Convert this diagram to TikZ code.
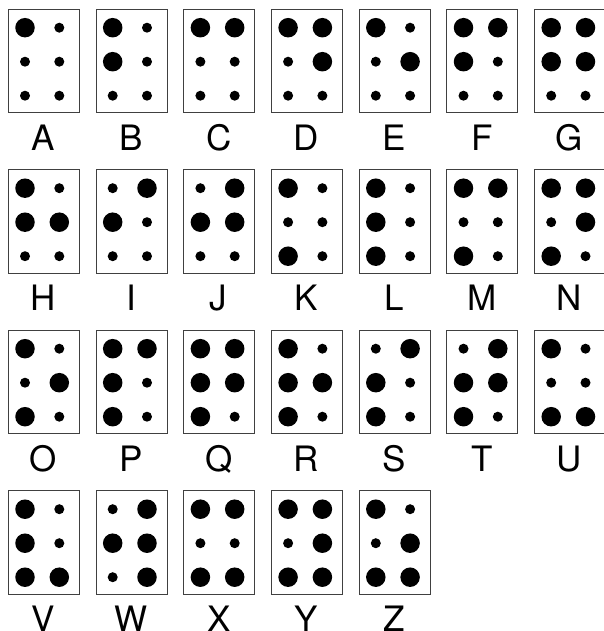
\documentclass[tikz,border=0pt]{standalone}
\usepackage{fontspec}
\setmainfont{TeX Gyre Heros}
\newcommand\brcell[9]{%
  \pgfmathsetmacro\bx{8.3+87.7*#1}%
  \pgfmathsetmacro\by{9.3+160.5*#2}%
  \node[cell] (box#3) at (\bx,\by) {};
  \node[dot#4] (#3d1) at (\bx+16.7,\by+18.4) {};
  \node[dot#5] (#3d2) at (\bx+16.7,\by+52.4) {};
  \node[dot#6] (#3d3) at (\bx+16.7,\by+86.4) {};
  \node[dot#7] (#3d4) at (\bx+51.0,\by+18.4) {};
  \node[dot#8] (#3d5) at (\bx+51.0,\by+52.4) {};
  \node[dot#9] (#3d6) at (\bx+51.0,\by+86.4) {};
  \node[lbl] (lab#3) at (\bx+35.0,\by+103.5+37.5) {#3};
}
\begin{document}
\begin{tikzpicture}[x=1pt,y=-1pt,
  cell/.style={draw=black!75, line width=0.9pt, fill=white, minimum width=71pt,
    minimum height=103.5pt, inner sep=0pt, outer sep=0pt, anchor=north west},
  dot1/.style={fill=black, circle, minimum size=19.5pt, inner sep=0pt},
  dot0/.style={fill=black, circle, minimum size=10pt, inner sep=0pt},
  lbl/.style={font=\fontsize{35}{35}\selectfont, anchor=base, inner sep=0pt}]
\useasboundingbox[fill=white] (0,0) rectangle (604,631);
\brcell{0}{0}{A}{1}{0}{0}{0}{0}{0}
\brcell{1}{0}{B}{1}{1}{0}{0}{0}{0}
\brcell{2}{0}{C}{1}{0}{0}{1}{0}{0}
\brcell{3}{0}{D}{1}{0}{0}{1}{1}{0}
\brcell{4}{0}{E}{1}{0}{0}{0}{1}{0}
\brcell{5}{0}{F}{1}{1}{0}{1}{0}{0}
\brcell{6}{0}{G}{1}{1}{0}{1}{1}{0}
\brcell{0}{1}{H}{1}{1}{0}{0}{1}{0}
\brcell{1}{1}{I}{0}{1}{0}{1}{0}{0}
\brcell{2}{1}{J}{0}{1}{0}{1}{1}{0}
\brcell{3}{1}{K}{1}{0}{1}{0}{0}{0}
\brcell{4}{1}{L}{1}{1}{1}{0}{0}{0}
\brcell{5}{1}{M}{1}{0}{1}{1}{0}{0}
\brcell{6}{1}{N}{1}{0}{1}{1}{1}{0}
\brcell{0}{2}{O}{1}{0}{1}{0}{1}{0}
\brcell{1}{2}{P}{1}{1}{1}{1}{0}{0}
\brcell{2}{2}{Q}{1}{1}{1}{1}{1}{0}
\brcell{3}{2}{R}{1}{1}{1}{0}{1}{0}
\brcell{4}{2}{S}{0}{1}{1}{1}{0}{0}
\brcell{5}{2}{T}{0}{1}{1}{1}{1}{0}
\brcell{6}{2}{U}{1}{0}{1}{0}{0}{1}
\brcell{0}{3}{V}{1}{1}{1}{0}{0}{1}
\brcell{1}{3}{W}{0}{1}{0}{1}{1}{1}
\brcell{2}{3}{X}{1}{0}{1}{1}{0}{1}
\brcell{3}{3}{Y}{1}{0}{1}{1}{1}{1}
\brcell{4}{3}{Z}{1}{0}{1}{0}{1}{1}
\end{tikzpicture}
\end{document}
